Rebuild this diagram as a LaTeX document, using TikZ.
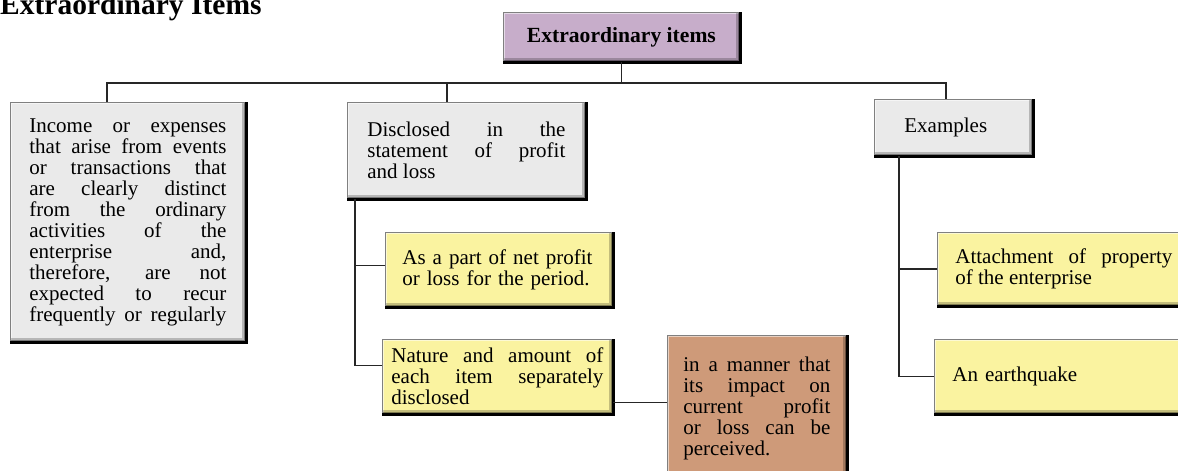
\documentclass[tikz,border=0pt]{standalone}
\usepackage{fontspec}
\setmainfont{Liberation Serif}
\usetikzlibrary{calc}
\definecolor{boxgray}{RGB}{234,234,234}
\definecolor{boxpurple}{RGB}{199,173,202}
\definecolor{boxyellow}{RGB}{250,243,160}
\definecolor{boxbrown}{RGB}{206,154,121}
\newcommand\bodyfont{\fontsize{21}{21}\selectfont}
\newcommand\justpar{\spaceskip=5.25pt plus 1fil\relax}
\newcommand\lastln{\hskip 0pt plus 1filll\mbox{}}
\newcommand\fulljustpar{\spaceskip=5.25pt plus 1fil\relax\parfillskip=0pt\relax}
\newcommand\castshadow[1]{\draw[shadowline] ([yshift=-0.6pt]#1.south west) -- ([xshift=0.6pt,yshift=-0.6pt]#1.south east) -- ([xshift=0.6pt]#1.north east);}
\tikzset{
  bevelbox/.style={rectangle, fill=#1, draw=black!50, line width=0.8pt,
    anchor=north west, font=\bodyfont, inner ysep=0pt,
    path picture={
      \draw[line width=4pt, white, opacity=0.55]
        (path picture bounding box.south west) -- (path picture bounding box.north west)
        -- (path picture bounding box.north east);
      \draw[line width=7pt, black, opacity=0.22]
        (path picture bounding box.south west) -- (path picture bounding box.south east)
        -- (path picture bounding box.north east);
      \draw[line width=3pt, black, opacity=0.35]
        (path picture bounding box.south west) -- (path picture bounding box.south east)
        -- (path picture bounding box.north east);
    }},
  connector/.style={draw=black!85, line width=1.4pt},
  shadowline/.style={draw=black, line width=2.2pt},
}
\begin{document}
\begin{tikzpicture}[x=1pt,y=-1pt]
\useasboundingbox (0,0) rectangle (1178,471);

\node[anchor=base west, inner sep=0pt, font=\fontsize{29.5}{30}\selectfont\bfseries] (title) at (0,14) {Extraordinary Items};

\node[bevelbox=boxpurple, minimum width=236pt, minimum height=49pt,
      font=\fontsize{21.6}{22}\selectfont\bfseries] (top) at (503,12) {Extraordinary items};

\node[bevelbox=boxgray, minimum width=235pt, minimum height=239pt, text width=197pt,
      inner xsep=19pt, align=justify] (inc) at (10,102)
  {\fulljustpar Income or expenses\linebreak that arise from events\linebreak or transactions that\linebreak
   are clearly distinct\linebreak from the ordinary\linebreak activities of the\linebreak enterprise and,\linebreak
   therefore, are not\linebreak expected to recur\linebreak frequently or regularly\par\vspace*{-6pt}};

\node[bevelbox=boxgray, minimum width=238pt, minimum height=96pt, text width=198pt,
      inner xsep=16pt, align=justify] (disc) at (347,102)
  {\justpar Disclosed in the\linebreak statement of profit\linebreak and loss\lastln\par\vspace*{6pt}};

\node[bevelbox=boxgray, minimum width=158pt, minimum height=56pt, text width=98pt,
      inner xsep=30pt, align=left] (ex) at (874,99) {Examples};

\node[bevelbox=boxyellow, minimum width=227pt, minimum height=74pt, text width=193pt,
      inner xsep=17pt, align=left] (y1) at (385,232)
  {As a part of net profit\\ or loss for the period.};

\node[bevelbox=boxyellow, minimum width=230pt, minimum height=74pt, text width=212pt,
      inner xsep=9pt, align=justify] (y2) at (382,339)
  {\justpar Nature and amount of\linebreak each item separately\linebreak disclosed\lastln\par\vspace*{-5pt}};

\node[bevelbox=boxbrown, minimum width=179pt, minimum height=146pt, text width=147pt,
      inner xsep=16pt, align=justify] (br) at (667,335)
  {\justpar in a manner that\linebreak its impact on\linebreak current profit\linebreak or loss can be\linebreak perceived.\lastln};

\node[bevelbox=boxyellow, minimum width=253pt, minimum height=73pt, text width=217pt,
      inner xsep=18pt, align=justify] (y3) at (937,232)
  {\justpar Attachment of property\linebreak of the enterprise\lastln};

\node[bevelbox=boxyellow, minimum width=256pt, minimum height=74pt, text width=220pt,
      inner xsep=18pt, align=left] (y4) at (934,339) {An earthquake\\[-8pt]};

\foreach \n in {top,inc,disc,ex,y1,y2,br,y3,y4} {\castshadow{\n}}

% connectors
\draw[connector] (top.south) -- ++(0,21) coordinate (hub);
\draw[connector] ([xshift=97pt]inc.north west) -- ([xshift=97pt]inc.north west |- hub)
  -- ([xshift=72pt]ex.north west |- hub) -- ([xshift=72pt]ex.north west);
\draw[connector] ([xshift=100pt]disc.north west) -- ([xshift=100pt]disc.north west |- hub);

\draw[connector] ([xshift=8pt]disc.south west) |- ([yshift=4pt]y1.west);
\draw[connector] ([xshift=8pt]disc.south west) |- ([yshift=11pt]y2.west);
\draw[connector] ([yshift=-26pt]y2.east) -- ([yshift=-26pt]y2.east -| br.west);

\draw[connector] ([xshift=25pt]ex.south west) |- (y3.west);
\draw[connector] ([xshift=25pt]ex.south west) |- (y4.west);
\end{tikzpicture}
\end{document}
